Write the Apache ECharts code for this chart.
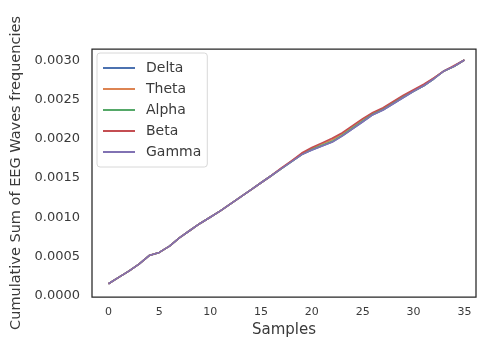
<!DOCTYPE html>
<html>
<head>
<meta charset="utf-8">
<script src="https://cdn.jsdelivr.net/npm/echarts@6/dist/echarts.min.js"></script>
<style>html,body{margin:0;padding:0;background:#fff;}#c{width:477px;height:338px;}</style>
</head>
<body>
<div id="c"></div>
<script>
const samples = [0,1,2,3,4,5,6,7,8,9,10,11,12,13,14,15,16,17,18,19,20,21,22,23,24,25,26,27,28,29,30,31,32,33,34,35];
const delta = [0.00015,0.00023,0.00031,0.00040,0.00051,0.00055,0.00063,0.00074,0.00083,0.00092,0.00100,0.00108,0.00117,0.00126,0.00135,0.00144,0.00153,0.00162,0.00171,0.00180,0.00186,0.00191,0.00196,0.00204,0.00213,0.00222,0.00231,0.00237,0.00245,0.00253,0.00261,0.00268,0.00277,0.00287,0.00293,0.00301];
const theta = [0.00015,0.00023,0.00031,0.00040,0.00051,0.00055,0.00063,0.00074,0.00083,0.00092,0.00100,0.00108,0.00117,0.00126,0.00135,0.00144,0.00153,0.00162,0.00172,0.00181,0.00188,0.00194,0.00199,0.00207,0.00216,0.00225,0.00233,0.00239,0.00247,0.00255,0.00262,0.00269,0.00278,0.00287,0.00293,0.00301];
const alpha = [0.00015,0.00023,0.00031,0.00040,0.00051,0.00055,0.00063,0.00074,0.00083,0.00092,0.00100,0.00108,0.00117,0.00126,0.00135,0.00144,0.00153,0.00162,0.00171,0.00180,0.00187,0.00192,0.00197,0.00205,0.00214,0.00223,0.00232,0.00238,0.00246,0.00254,0.00261,0.00268,0.00277,0.00287,0.00293,0.00301];
const beta  = [0.00015,0.00023,0.00031,0.00040,0.00051,0.00055,0.00063,0.00074,0.00083,0.00092,0.00100,0.00108,0.00117,0.00126,0.00135,0.00144,0.00153,0.00163,0.00172,0.00182,0.00189,0.00195,0.00201,0.00208,0.00217,0.00226,0.00234,0.00240,0.00248,0.00256,0.00263,0.00270,0.00278,0.00287,0.00294,0.00301];
const gamma = [0.00015,0.00023,0.00031,0.00040,0.00051,0.00055,0.00063,0.00074,0.00083,0.00092,0.00100,0.00108,0.00117,0.00126,0.00135,0.00144,0.00153,0.00162,0.00171,0.00180,0.00186,0.00191,0.00196,0.00204,0.00213,0.00222,0.00231,0.00237,0.00245,0.00253,0.00261,0.00268,0.00277,0.00287,0.00293,0.00301];
const seriesNames = ['Delta','Theta','Alpha','Beta','Gamma'];
const seriesData = [delta, theta, alpha, beta, gamma];
const colors = ['#4c72b0','#dd8452','#55a868','#c44e52','#8172b3'];
const xTicks = [0,5,10,15,20,25,30,35];
const yTicks = [0,0.0005,0.001,0.0015,0.002,0.0025,0.003];

const chart = echarts.init(document.getElementById('c'));
const font = 'DejaVu Sans, Liberation Sans, sans-serif';
const txt = '#3a3a3a';
chart.setOption({
  animation: false,
  color: colors,
  grid: {left: 92, top: 49, right: 1, bottom: 41, containLabel: false, outerBoundsMode: 'none',
    show: true, borderColor: '#262626', borderWidth: 1.25, backgroundColor: '#fff'},
  legend: {
    orient: 'vertical', left: 97, top: 53,
    data: seriesNames,
    itemWidth: 32, itemHeight: 2, itemGap: 7,
    icon: 'rect',
    padding: [8, 6, 8, 6],
    backgroundColor: '#fff', borderColor: '#d8d8d8', borderWidth: 1, borderRadius: 3,
    textStyle: {fontFamily: font, fontSize: 14, color: txt, padding: [0,0,0,6]}
  },
  xAxis: {
    type: 'value', min: -1.62, max: 36.14,
    name: 'Samples', nameLocation: 'middle', nameGap: 23,
    nameTextStyle: {fontFamily: font, fontSize: 15, color: txt},
    axisLine: {show: false}, axisTick: {show: false}, splitLine: {show: false},
    axisLabel: {fontFamily: font, fontSize: 11, color: txt, margin: 10,
      customValues: xTicks, formatter: v => String(v)}
  },
  yAxis: {
    type: 'value', min: -0.00002, max: 0.00315,
    name: 'Cumulative Sum of EEG Waves frequencies', nameLocation: 'middle', nameGap: 67,
    nameTextStyle: {fontFamily: font, fontSize: 14.5, color: txt},
    axisLine: {show: false}, axisTick: {show: false}, splitLine: {show: false},
    axisLabel: {fontFamily: font, fontSize: 13, color: txt, margin: 12,
      customValues: yTicks, formatter: v => v.toFixed(4)}
  },
  series: seriesNames.map((n, i) => ({
    name: n, type: 'line', showSymbol: false, symbol: 'none',
    data: samples.map((x, j) => [x, seriesData[i][j]]),
    lineStyle: {width: 1.6, color: colors[i]}
  }))
});
</script>
</body>
</html>
